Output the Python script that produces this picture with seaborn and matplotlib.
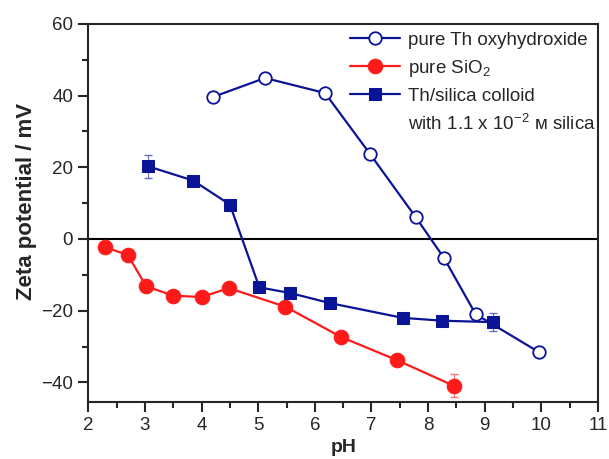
import numpy as np
import pandas as pd
import matplotlib
matplotlib.use("Agg")
import matplotlib.pyplot as plt
import seaborn as sns
from matplotlib.lines import Line2D
from matplotlib.ticker import MultipleLocator

# --- datos ---
ph_th = [4.2, 5.12, 6.18, 6.97, 7.78, 8.28, 8.84, 9.95]
zeta_th = [39.6, 44.9, 40.7, 23.8, 6.1, -5.3, -21.0, -31.5]

ph_si = [2.3, 2.7, 3.02, 3.5, 4.0, 4.48, 5.48, 6.47, 7.45, 8.46]
zeta_si = [-2.3, -4.5, -13.2, -15.8, -16.2, -13.7, -18.9, -27.4, -33.8, -41.0]
err_si = [0, 0, 0, 0, 0, 0, 0, 0, 0, 3.2]

ph_col = [3.05, 3.85, 4.5, 5.02, 5.57, 6.27, 7.55, 8.25, 9.14]
zeta_col = [20.3, 16.3, 9.6, -13.5, -15.1, -17.9, -22.0, -22.8, -23.2]
err_col = [3.2, 0, 0, 0, 0, 0, 0, 0, 2.5]

labels = ["pure Th oxyhydroxide", "pure SiO$_2$", "Th/silica colloid",
          "with 1.1 x 10$^{-2}$ \u1d0d silica"]

BLUE = "#0a1496"
RED = "#ff1a1a"

sns.set_style("ticks")
plt.rcParams["font.family"] = ["Liberation Sans", "DejaVu Sans"]
plt.rcParams["mathtext.fontset"] = "custom"
plt.rcParams["mathtext.rm"] = "Liberation Sans"
plt.rcParams["mathtext.it"] = "Liberation Sans"

fig, ax = plt.subplots(figsize=(6.09, 4.59), dpi=100)
fig.subplots_adjust(left=0.145, right=0.982, top=0.948, bottom=0.124)

ax.axhline(0, color="black", lw=1.5, zorder=1)

df_th = pd.DataFrame({"pH": ph_th, "zeta": zeta_th})
df_si = pd.DataFrame({"pH": ph_si, "zeta": zeta_si, "err": err_si})
df_col = pd.DataFrame({"pH": ph_col, "zeta": zeta_col, "err": err_col})

sns.lineplot(data=df_th, x="pH", y="zeta", ax=ax, color=BLUE, lw=1.6,
             marker="o", markersize=9, markerfacecolor="white",
             markeredgecolor=BLUE, markeredgewidth=1.3, label=labels[0],
             zorder=3)
sns.lineplot(data=df_si, x="pH", y="zeta", ax=ax, color=RED, lw=1.6,
             marker="o", markersize=10.5, markeredgecolor=RED,
             label=labels[1], zorder=3)
sns.lineplot(data=df_col, x="pH", y="zeta", ax=ax, color=BLUE, lw=1.6,
             marker="s", markersize=8.3, markeredgecolor=BLUE,
             label=labels[2], zorder=4)

# barras de error solo donde existen
for d, c in [(df_si, RED), (df_col, BLUE)]:
    m = d["err"] > 0
    ax.errorbar(d.loc[m, "pH"], d.loc[m, "zeta"], yerr=d.loc[m, "err"],
                fmt="none", ecolor=c, elinewidth=0.8, capsize=3, alpha=0.6,
                zorder=2)

ax.set_xlim(2, 11)
ax.set_ylim(-45.5, 60)
ax.xaxis.set_major_locator(MultipleLocator(1))
ax.xaxis.set_minor_locator(MultipleLocator(0.5))
ax.yaxis.set_major_locator(MultipleLocator(20))
ax.yaxis.set_minor_locator(MultipleLocator(10))
ax.tick_params(which="major", direction="out", length=7, width=1.5,
               labelsize=13.5, pad=4)
ax.tick_params(which="minor", direction="out", length=4, width=1.5)
for s in ax.spines.values():
    s.set_linewidth(1.5)
    s.set_visible(True)

ax.set_xlabel("pH", fontsize=14, fontweight="bold", labelpad=3)
ax.set_ylabel("Zeta potential / mV", fontsize=16, fontweight="bold")
ax.yaxis.set_label_coords(-0.1, 0.53)

# leyenda: segunda línea del tercer rótulo sin símbolo
handles, _ = ax.get_legend_handles_labels()
handles.append(Line2D([], [], color="none"))
ax.legend(handles, labels, loc="upper right", bbox_to_anchor=(1.003, 0.99),
          frameon=False, fontsize=13.5, handlelength=2.7, handletextpad=0.4,
          labelspacing=0.48, borderaxespad=0.0, borderpad=0.2)

fig.savefig("out.png", dpi=100)
